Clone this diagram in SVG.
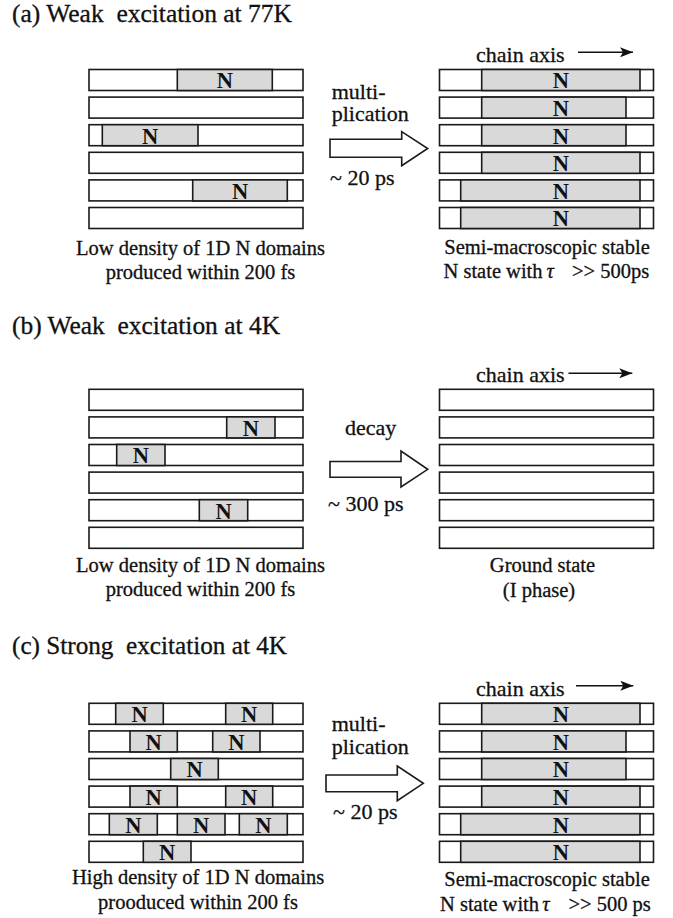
<svg xmlns="http://www.w3.org/2000/svg" width="673" height="918" viewBox="0 0 673 918" font-family="'Liberation Serif', 'Times New Roman', 'DejaVu Serif', serif">
<style>
text{font-family:'Liberation Serif','Times New Roman','DejaVu Serif',serif;fill:#111;stroke:#111;stroke-width:0.3}
.bar{fill:#fff;stroke:#1a1a1a;stroke-width:1.6}
.dom{fill:#d9d9d9;stroke:#1a1a1a;stroke-width:1.6}
.n{font-size:22.5px;font-weight:bold;text-anchor:middle;stroke-width:0}
.t{font-size:20.5px}
.lbl{font-size:22px}
.title{font-size:25px}
.mid{text-anchor:middle}
.blk{fill:#fff;stroke:#1a1a1a;stroke-width:1.6;stroke-linejoin:miter}
.ax{stroke:#111;stroke-width:1.5;fill:none}
</style>
<defs>
<marker id="ah" markerUnits="userSpaceOnUse" markerWidth="14" markerHeight="10" refX="13" refY="5" orient="auto">
<path d="M0,0 L13,5 L0,10 L3,5 Z" fill="#111"/>
</marker>
<g id="bar"><rect class="bar" x="0" y="0" width="214" height="21"/></g>
</defs>

<!-- Titles -->
<text class="title" x="12" y="22" xml:space="preserve" textLength="280" lengthAdjust="spacingAndGlyphs">(a) Weak  excitation at 77K</text>
<text class="title" x="12" y="334" xml:space="preserve" textLength="268" lengthAdjust="spacingAndGlyphs">(b) Weak  excitation at 4K</text>
<text class="title" x="12" y="654" xml:space="preserve" textLength="275" lengthAdjust="spacingAndGlyphs">(c) Strong  excitation at 4K</text>

<!-- Panel (a) left -->
<g id="a-left">
<use href="#bar" x="89" y="69.5"/><use href="#bar" x="89" y="97.1"/><use href="#bar" x="89" y="124.7"/>
<use href="#bar" x="89" y="152.3"/><use href="#bar" x="89" y="179.9"/><use href="#bar" x="89" y="207.5"/>
<rect class="dom" x="177.3" y="69.5" width="95" height="21"/><text class="n" x="224.8" y="88.3">N</text>
<rect class="dom" x="102.3" y="124.7" width="95.7" height="21"/><text class="n" x="150.2" y="143.5">N</text>
<rect class="dom" x="192.7" y="179.9" width="94.6" height="21"/><text class="n" x="240" y="198.7">N</text>
<text class="t mid" x="200.5" y="255">Low density of 1D N domains</text>
<text class="t mid" x="200.5" y="279">produced within 200 fs</text>
</g>

<!-- Panel (a) right -->
<g id="a-right">
<use href="#bar" x="439.5" y="69.5"/><use href="#bar" x="439.5" y="97.1"/><use href="#bar" x="439.5" y="124.7"/>
<use href="#bar" x="439.5" y="152.3"/><use href="#bar" x="439.5" y="179.9"/><use href="#bar" x="439.5" y="207.5"/>
<rect class="dom" x="481.7" y="69.5" width="158.3" height="21"/><text class="n" x="560.8" y="88.3">N</text>
<rect class="dom" x="481.7" y="97.1" width="144.3" height="21"/><text class="n" x="560.8" y="115.9">N</text>
<rect class="dom" x="481.7" y="124.7" width="144.3" height="21"/><text class="n" x="560.8" y="143.5">N</text>
<rect class="dom" x="481.7" y="152.3" width="158.3" height="21"/><text class="n" x="560.8" y="171.1">N</text>
<rect class="dom" x="460.7" y="179.9" width="179.3" height="21"/><text class="n" x="560.8" y="198.7">N</text>
<rect class="dom" x="460.7" y="207.5" width="179.3" height="21"/><text class="n" x="560.8" y="226.3">N</text>
<text class="lbl" x="476" y="62">chain axis</text>
<text class="t mid" x="547" y="254">Semi-macroscopic stable</text>
<text class="t" y="278"><tspan x="443.5">N state with</tspan><tspan x="546.5" font-style="italic">τ</tspan><tspan x="572">&gt;&gt; 500ps</tspan></text>
</g>

<!-- Panel (b) left -->
<g id="b-left">
<use href="#bar" x="89" y="389.3"/><use href="#bar" x="89" y="416.9"/><use href="#bar" x="89" y="444.5"/>
<use href="#bar" x="89" y="472.1"/><use href="#bar" x="89" y="499.7"/><use href="#bar" x="89" y="527.3"/>
<rect class="dom" x="226.7" y="416.9" width="48.3" height="21"/><text class="n" x="250.8" y="435.7">N</text>
<rect class="dom" x="116.7" y="444.5" width="48.3" height="21"/><text class="n" x="140.8" y="463.3">N</text>
<rect class="dom" x="199.3" y="499.7" width="48.4" height="21"/><text class="n" x="223.5" y="518.5">N</text>
<text class="t mid" x="200.5" y="572">Low density of 1D N domains</text>
<text class="t mid" x="200.5" y="596">produced within 200 fs</text>
</g>

<!-- Panel (b) right -->
<g id="b-right">
<use href="#bar" x="439.5" y="389.3"/><use href="#bar" x="439.5" y="416.9"/><use href="#bar" x="439.5" y="444.5"/>
<use href="#bar" x="439.5" y="472.1"/><use href="#bar" x="439.5" y="499.7"/><use href="#bar" x="439.5" y="527.3"/>
<text class="lbl" x="476" y="381.5">chain axis</text>
<text class="t mid" x="542.5" y="572">Ground state</text>
<text class="t mid" x="539" y="597">(I phase)</text>
</g>

<!-- Panel (c) left -->
<g id="c-left">
<use href="#bar" x="89" y="703.3"/><use href="#bar" x="89" y="730.9"/><use href="#bar" x="89" y="758.5"/>
<use href="#bar" x="89" y="786.1"/><use href="#bar" x="89" y="813.7"/><use href="#bar" x="89" y="841.3"/>
<rect class="dom" x="115.7" y="703.3" width="47.6" height="21"/><text class="n" x="139.5" y="722.1">N</text>
<rect class="dom" x="225.7" y="703.3" width="47" height="21"/><text class="n" x="249.2" y="722.1">N</text>
<rect class="dom" x="130" y="730.9" width="47.3" height="21"/><text class="n" x="153.7" y="749.7">N</text>
<rect class="dom" x="212.7" y="730.9" width="47.3" height="21"/><text class="n" x="236.4" y="749.7">N</text>
<rect class="dom" x="170.7" y="758.5" width="47.6" height="21"/><text class="n" x="194.5" y="777.3">N</text>
<rect class="dom" x="130" y="786.1" width="47.3" height="21"/><text class="n" x="153.7" y="804.9">N</text>
<rect class="dom" x="225.7" y="786.1" width="47" height="21"/><text class="n" x="249.2" y="804.9">N</text>
<rect class="dom" x="109.3" y="813.7" width="48" height="21"/><text class="n" x="133.3" y="832.5">N</text>
<rect class="dom" x="177.3" y="813.7" width="47.7" height="21"/><text class="n" x="201.2" y="832.5">N</text>
<rect class="dom" x="239.3" y="813.7" width="48" height="21"/><text class="n" x="263.3" y="832.5">N</text>
<rect class="dom" x="143.3" y="841.3" width="47.7" height="21"/><text class="n" x="167.2" y="860.1">N</text>
<text class="t mid" x="198" y="884">High density of 1D N domains</text>
<text class="t mid" x="198" y="908.5">prooduced within 200 fs</text>
</g>

<!-- Panel (c) right -->
<g id="c-right">
<use href="#bar" x="439.5" y="703.3"/><use href="#bar" x="439.5" y="730.9"/><use href="#bar" x="439.5" y="758.5"/>
<use href="#bar" x="439.5" y="786.1"/><use href="#bar" x="439.5" y="813.7"/><use href="#bar" x="439.5" y="841.3"/>
<rect class="dom" x="481.7" y="703.3" width="158.3" height="21"/><text class="n" x="560.8" y="722.1">N</text>
<rect class="dom" x="481.7" y="730.9" width="144.3" height="21"/><text class="n" x="560.8" y="749.7">N</text>
<rect class="dom" x="481.7" y="758.5" width="144.3" height="21"/><text class="n" x="560.8" y="777.3">N</text>
<rect class="dom" x="481.7" y="786.1" width="158.3" height="21"/><text class="n" x="560.8" y="804.9">N</text>
<rect class="dom" x="460.7" y="813.7" width="179.3" height="21"/><text class="n" x="560.8" y="832.5">N</text>
<rect class="dom" x="460.7" y="841.3" width="179.3" height="21"/><text class="n" x="560.8" y="860.1">N</text>
<text class="lbl" x="476" y="695.5">chain axis</text>
<text class="t mid" x="547" y="886">Semi-macroscopic stable</text>
<text class="t" y="910.5"><tspan x="440">N state with</tspan><tspan x="542.3" font-style="italic">τ</tspan><tspan x="568.5">&gt;&gt; 500 ps</tspan></text>
</g>

<!-- Connectors -->
<g id="connectors">
<path class="blk" d="M330,139.3 H401.7 V131.7 L427.7,148.5 L401.7,165.7 V157.3 H330 Z"/>
<path class="blk" d="M330,461.5 H401 V451 L427.7,469.3 L401,487 V477.3 H330 Z"/>
<path class="blk" d="M326,775 H397.3 V766 L423.3,783.3 L397.3,800.7 V791.7 H326 Z"/>
<line class="ax" x1="578" y1="52.3" x2="633" y2="52.3" marker-end="url(#ah)"/>
<line class="ax" x1="568.5" y1="373.3" x2="632.3" y2="373.3" marker-end="url(#ah)"/>
<line class="ax" x1="576" y1="685.7" x2="633.3" y2="685.7" marker-end="url(#ah)"/>
<text class="lbl" x="331.7" y="98.5">multi-</text>
<text class="lbl" x="331.7" y="121">plication</text>
<text class="lbl" x="330" y="185">~ 20 ps</text>
<text class="lbl" x="345" y="435">decay</text>
<text class="lbl" x="328" y="510.7">~ 300 ps</text>
<text class="lbl" x="331.7" y="730.5">multi-</text>
<text class="lbl" x="331.7" y="753.5">plication</text>
<text class="lbl" x="333" y="819">~ 20 ps</text>
</g>
</svg>
